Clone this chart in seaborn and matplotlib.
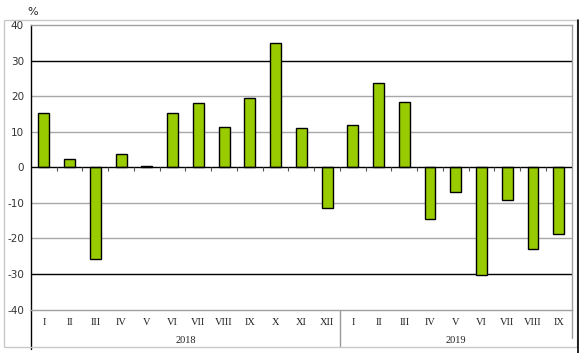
import pandas as pd
import matplotlib.pyplot as plt
import seaborn as sns
import numpy as np
from matplotlib.patches import Rectangle
from matplotlib.lines import Line2D

# -----------------------------
# Data
# -----------------------------
months_2018 = ['I', 'II', 'III', 'IV', 'V', 'VI', 'VII', 'VIII', 'IX', 'X', 'XI', 'XII']
months_2019 = ['I', 'II', 'III', 'IV', 'V', 'VI', 'VII', 'VIII', 'IX']
values_2018 = [15.4, 2.4, -25.9, 3.6, 0.3, 15.3, 18.0, 11.2, 19.4, 34.8, 11.0, -11.4]
values_2019 = [11.8, 23.6, 18.3, -14.6, -7.0, -30.3, -9.3, -23.0, -18.7]
years = ['2018', '2019']
y_ticks = [-40, -30, -20, -10, 0, 10, 20, 30, 40]

df = pd.DataFrame({
    'key': [f'2018-{m}' for m in months_2018] + [f'2019-{m}' for m in months_2019],
    'month': months_2018 + months_2019,
    'value': values_2018 + values_2019,
})
n = len(df)
n18 = len(months_2018)

sns.set_style("white")
plt.rcParams['font.family'] = ['DejaVu Sans']

fig = plt.figure(figsize=(5.84, 3.53), dpi=100)
ax = fig.add_axes([31 / 584, 1 - 309.6 / 353, (571.7 - 31) / 584, (309.6 - 25) / 353])

# outer frame
fig.patches.append(Rectangle((4 / 584, 1 - 346.5 / 353), (577 - 4) / 584, (346.5 - 20) / 353,
                             transform=fig.transFigure, fill=False, edgecolor='#c8c8c8', lw=1))
fig.lines.append(Line2D([577.5 / 584, 577.5 / 584], [0, 1 - 20 / 353],
                        transform=fig.transFigure, color='black', lw=1.2))

# grid
for v in y_ticks[1:-1]:
    if v == 0:
        continue
    ax.axhline(v, color='black' if abs(v) == 30 else '#a8a8a8', lw=1, zorder=0)

sns.barplot(data=df, x='key', y='value', color='#99cc00', edgecolor='black',
            linewidth=1, width=0.42, saturation=1, ax=ax, zorder=2)

ax.axhline(0, color='black', lw=1, zorder=3)
# small ticks on zero line
bounds = np.arange(n + 1) - 0.5
ax.vlines(bounds[1:-1], -0.9, 0, color='#555555', lw=0.8, zorder=3)

ax.set_xlim(-0.5, n - 0.5)
ax.set_ylim(-40, 40)
ax.set_yticks(y_ticks)
ax.set_yticklabels([str(v) for v in y_ticks], fontsize=7.5, color='#333333')
ax.tick_params(axis='y', length=3, width=0.8, color='black', pad=2)

ax.set_xticks(range(n))
ax.set_xticklabels(df['month'], fontsize=7.5, family='Liberation Serif', color='#222222')
ax.tick_params(axis='x', which='major', length=0, pad=6)
ax.set_xticks(bounds[1:-1], minor=True)
ax.tick_params(axis='x', which='minor', length=13, width=1, color='#444444', direction='out')

ax.set_xlabel('')
ax.set_ylabel('')

for s in ['top', 'right', 'bottom']:
    ax.spines[s].set_color('#a0a0a0')
    ax.spines[s].set_linewidth(1)
ax.spines['left'].set_color('black')
ax.spines['left'].set_linewidth(1)

trans = ax.get_xaxis_transform()
# left axis line extends to the bottom of the frame
ax.plot([-0.5, -0.5], [0, -0.14], transform=trans, color='black', lw=1, clip_on=False)
# year separator
ax.plot([n18 - 0.5, n18 - 0.5], [0, -0.13], transform=trans, color='#999999', lw=1, clip_on=False)
# right border continues down
ax.plot([n - 0.5, n - 0.5], [0, -0.1], transform=trans, color='#a0a0a0', lw=1, clip_on=False)

# year labels
ax.text((n18 - 1) / 2, -0.108, years[0], transform=trans, ha='center', va='center',
        fontsize=7.5, family='Liberation Serif', color='#222222')
ax.text(n18 + (n - n18 - 1) / 2, -0.108, years[1], transform=trans, ha='center', va='center',
        fontsize=7.5, family='Liberation Serif', color='#222222')

fig.text(33 / 584, 1 - 12 / 353, '%', ha='center', va='center', fontsize=8, color='#222222')

plt.savefig('out.png', dpi=100)
